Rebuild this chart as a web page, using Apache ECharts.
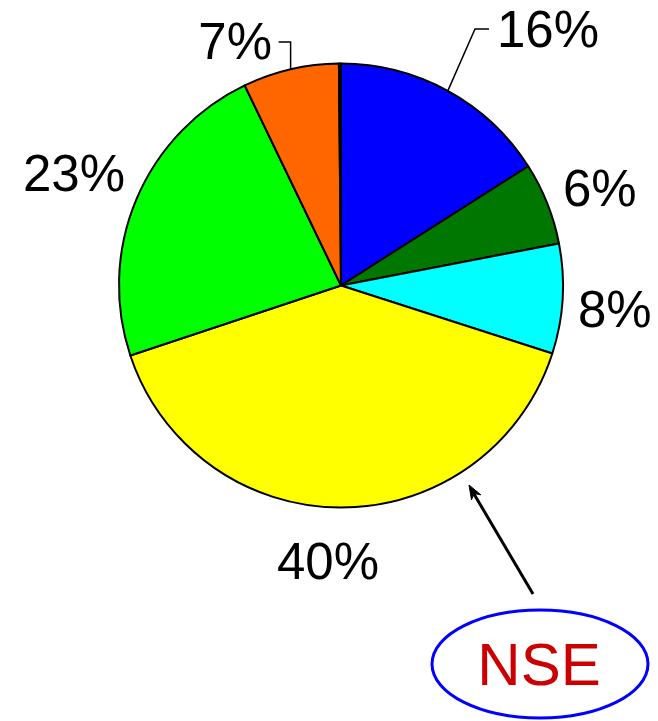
<!DOCTYPE html>
<html>
<head>
<meta charset="utf-8">
<script src="https://cdn.jsdelivr.net/npm/echarts@6/dist/echarts.min.js"></script>
<style>
  html, body { margin: 0; padding: 0; background: #ffffff; }
  #chart { width: 658px; height: 721px; }
</style>
</head>
<body>
<div id="chart"></div>
<script>
// Share of each component, clockwise from 12 o'clock (percent)
const shares = [16, 6, 8, 40, 23, 7, 0.15];
const sliceColors = ['#0000ff', '#007700', '#00ffff', '#ffff00', '#00ff00', '#ff6600', '#666666'];
const showLabel = [true, true, true, true, true, true, false];
const withLeader = [true, false, false, false, false, true, false];

// Label anchor placement per slice
const labelPlace = [
  { x: 497, y: 33, align: 'left' },
  { x: 563, y: 192, align: 'left' },
  { x: 578, y: 313, align: 'left' },
  { x: 328, y: 565, align: 'center' },
  { x: 125, y: 177, align: 'right' },
  { x: 272, y: 45, align: 'right' },
  null
];

const data = shares.map((v, i) => ({
  value: v,
  itemStyle: { color: sliceColors[i] },
  label: { show: showLabel[i] },
  labelLine: { show: withLeader[i] }
}));

const chart = echarts.init(document.getElementById('chart'), null, { renderer: 'canvas' });
chart.setOption({
  animation: false,
  backgroundColor: '#ffffff',
  series: [{
    type: 'pie',
    center: [341, 285.5],
    radius: 222,
    startAngle: 90,
    clockwise: true,
    avoidLabelOverlap: false,
    emphasis: { disabled: true },
    itemStyle: { borderColor: '#000000', borderWidth: 2 },
    label: {
      position: 'outside',
      formatter: p => p.value + '%',
      color: '#000000',
      fontFamily: 'Liberation Sans, Arial, sans-serif',
      fontSize: 51
    },
    labelLine: {
      lineStyle: { color: '#000000', width: 1.5 },
      length: 20,
      length2: 10
    },
    labelLayout: function (params) {
      const p = labelPlace[params.dataIndex];
      if (!p) return {};
      const out = { x: p.x, y: p.y, align: p.align, verticalAlign: 'middle' };
      const pts = params.labelLinePoints;
      if (withLeader[params.dataIndex] && pts && pts.length) {
        const e = pts[0];
        if (params.dataIndex === 0) {
          out.labelLinePoints = [[e[0], e[1]], [475, 29], [489, 29]];
        } else {
          out.labelLinePoints = [[e[0], e[1]], [e[0], 42], [e[0] - 12, 42]];
        }
      }
      return out;
    },
    data: data
  }],
  graphic: [
    {
      type: 'line',
      shape: { x1: 533, y1: 594, x2: 474, y2: 494 },
      style: { stroke: '#000000', lineWidth: 3 }
    },
    {
      type: 'polygon',
      shape: { points: [[469, 485], [480.8, 494.8], [474.1, 493.6], [471.5, 499.8]] },
      style: { fill: '#000000', stroke: '#000000', lineWidth: 1 }
    },
    {
      type: 'ellipse',
      shape: { cx: 540, cy: 664, rx: 108, ry: 54 },
      style: { fill: 'none', stroke: '#0000ff', lineWidth: 3 }
    },
    {
      type: 'text',
      x: 539,
      y: 668,
      style: {
        text: 'NSE',
        fill: '#cc0000',
        font: '60px "Liberation Sans", Arial, sans-serif',
        align: 'center',
        verticalAlign: 'middle'
      }
    }
  ]
});
</script>
</body>
</html>
